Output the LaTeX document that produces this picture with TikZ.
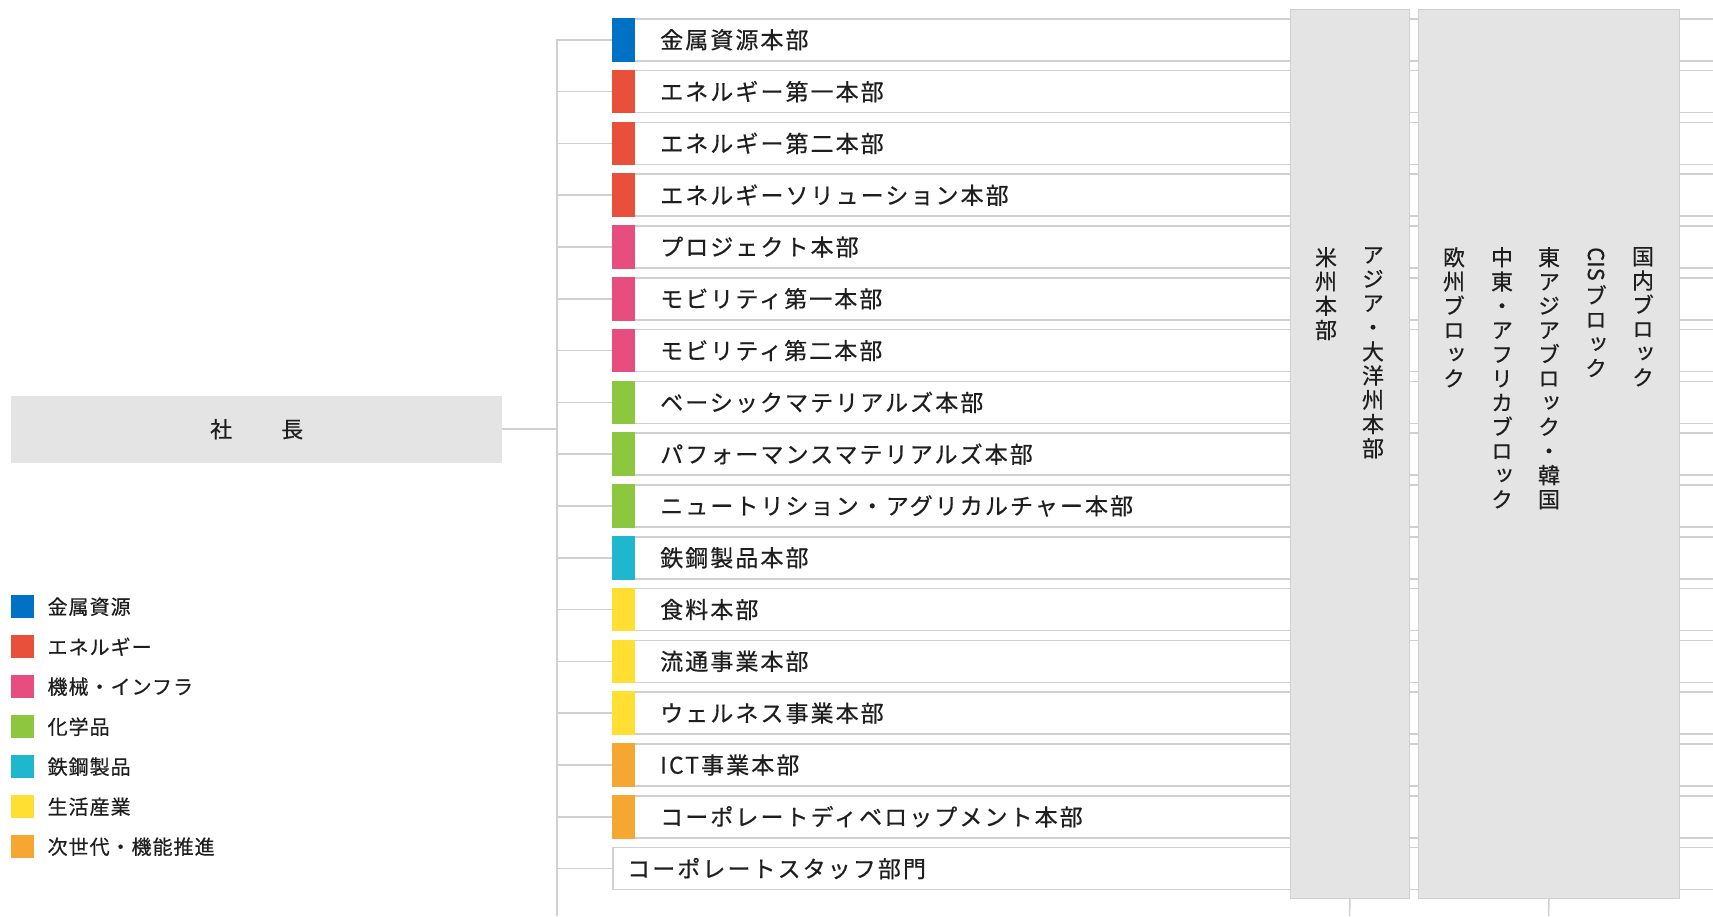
\documentclass[tikz,border=0pt]{standalone}
\usepackage{fontspec}
\usepackage{graphicx}
\setmainfont[FakeBold=0.5]{Noto Sans CJK JP}
\newfontfamily\jp[LetterSpace=9,FakeBold=0.5]{Noto Sans CJK JP}
\newfontfamily\jpl[LetterSpace=5,FakeBold=0.5]{Noto Sans CJK JP}
\newfontfamily\vjp[RawFeature=+vert,FakeBold=0.5]{Noto Sans CJK JP}
\definecolor{cblue}{RGB}{0,114,198}
\definecolor{cred}{RGB}{232,80,60}
\definecolor{cpink}{RGB}{231,77,127}
\definecolor{cgreen}{RGB}{141,198,63}
\definecolor{ccyan}{RGB}{30,183,205}
\definecolor{cyellow}{RGB}{255,224,50}
\definecolor{corange}{RGB}{245,167,50}
\definecolor{lineg}{RGB}{208,208,208}
\definecolor{boxg}{RGB}{228,228,228}
\definecolor{txt}{RGB}{30,30,30}
\tikzset{
  conn/.style={draw=lineg, line width=1.5pt},
  rowbox/.style={draw=lineg, line width=1.5pt, fill=white, rectangle, inner sep=0pt,
    minimum width=1110pt, minimum height=42pt, anchor=north west},
  rowtext/.style={anchor=west, inner sep=0pt, text=txt, font=\jp\fontsize{23}{25}\selectfont},
  gbox/.style={draw=lineg, line width=1pt, fill=boxg, rectangle, inner sep=0pt, anchor=north west},
  vtext/.style={anchor=north, inner sep=0pt, align=center, text=txt, font=\vjp\fontsize{22}{24.2}\selectfont},
  legsq/.style={rectangle, inner sep=0pt, minimum width=23pt, minimum height=23pt, anchor=north west},
  legtext/.style={anchor=west, inner sep=0pt, text=txt, font=\jpl\fontsize{20}{22}\selectfont},
}
\begin{document}
\begin{tikzpicture}[x=1pt,y=-1pt]
\clip (0,0) rectangle (1713,916);
\useasboundingbox (0,0) rectangle (1713,916);
\fill[white] (0,0) rectangle (1713,916);
% trunk
\coordinate (ttop) at (557,39);
\coordinate (tbot) at (557,916);
\draw[conn] (ttop) -- (tbot);
% rows
\foreach \i/\c/\t in {
 0/cblue/金属資源本部,
 1/cred/エネルギー第一本部,
 2/cred/エネルギー第二本部,
 3/cred/エネルギーソリューション本部,
 4/cpink/プロジェクト本部,
 5/cpink/モビリティ第一本部,
 6/cpink/モビリティ第二本部,
 7/cgreen/ベーシックマテリアルズ本部,
 8/cgreen/パフォーマンスマテリアルズ本部,
 9/cgreen/ニュートリション・アグリカルチャー本部,
 10/ccyan/鉄鋼製品本部,
 11/cyellow/食料本部,
 12/cyellow/流通事業本部,
 13/cyellow/ウェルネス事業本部,
 14/corange/ICT事業本部,
 15/corange/コーポレートディベロップメント本部}{
  \node[rowbox] (row\i) at (612,{18+51.8*\i}) {};
  \fill[\c] (row\i.north west) rectangle ([xshift=23pt]row\i.south west);
  \node[rowtext] (rt\i) at ([xshift=48pt]row\i.west) {\t};
  \draw[conn] (row\i.west -| ttop) -- (row\i.west);
}
\node[rowbox] (row16) at (612,{18+51.8*16}) {};
\node[rowtext] (rt16) at ([xshift=15pt]row16.west) {コーポレートスタッフ部門};
\draw[conn] (row16.west -| ttop) -- (row16.west);
% president
\node[fill=boxg, rectangle, inner sep=0pt, minimum width=491pt, minimum height=67pt, anchor=north west,
  text=txt, font=\fontsize{22}{24}\selectfont] (pres) at (11,395.5) {社\hspace{49pt}長};
\draw[conn] (pres.east) -- (pres.east -| ttop);
% regional boxes
\node[gbox, minimum width=119pt, minimum height=889pt] (amer) at (1290,9) {};
\node[gbox, minimum width=261pt, minimum height=889pt] (glob) at (1418,9) {};
\coordinate (ab) at (1349.5,916);
\coordinate (gb) at (1548.5,916);
\draw[conn] (amer.south) -- (ab);
\draw[conn] (glob.south) -- (gb);
% vertical texts
\node[vtext] (v1) at (1326,247) {米\\州\\本\\部};
\node[vtext] (v2) at (1373,247) {ア\\ジ\\ア\\・\\大\\洋\\州\\本\\部};
\node[vtext] (v3) at (1454,247) {欧\\州\\ブ\\ロ\\ッ\\ク};
\node[vtext] (v4) at (1502,247) {中\\東\\・\\ア\\フ\\リ\\カ\\ブ\\ロ\\ッ\\ク};
\node[vtext] (v5) at (1549,247) {東\\ア\\ジ\\ア\\ブ\\ロ\\ッ\\ク\\・\\韓\\国};
\node[vtext] (v6a) at (1596,247) {\rotatebox{-90}{CIS}};
\node[vtext] (v6) at (v6a.south) [yshift=-4pt] {ブ\\ロ\\ッ\\ク};
\node[vtext] (v7) at (1643,247) {国\\内\\ブ\\ロ\\ッ\\ク};
% legend
\foreach \k/\c/\t in {0/cblue/金属資源, 1/cred/エネルギー, 2/cpink/機械・インフラ, 3/cgreen/化学品,
  4/ccyan/鉄鋼製品, 5/cyellow/生活産業, 6/corange/次世代・機能推進}{
  \node[legsq, fill=\c] (lg\k) at (11,{595+40*\k}) {};
  \node[legtext] (lt\k) at ([xshift=13pt]lg\k.east) {\t};
}
\end{tikzpicture}
\end{document}
